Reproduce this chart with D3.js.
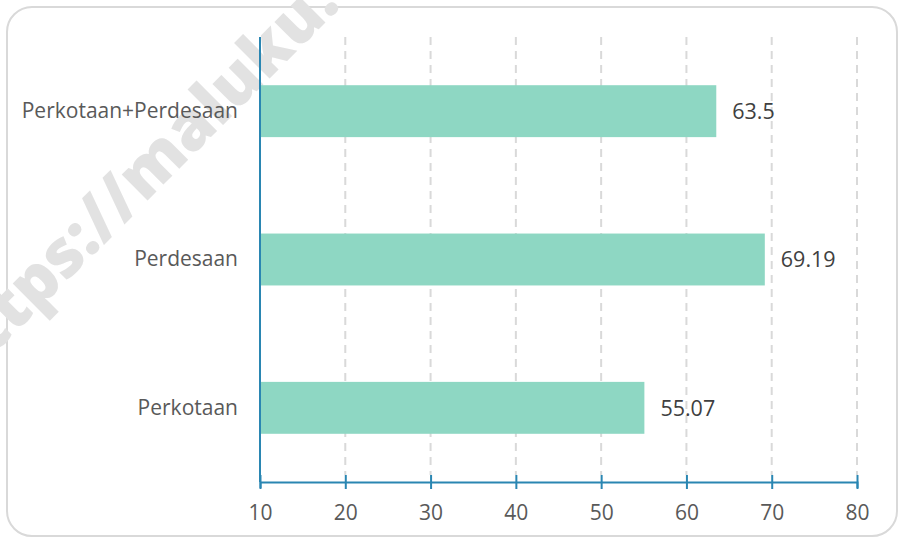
<!DOCTYPE html>
<html>
<head>
<meta charset="utf-8">
<script src="https://cdn.jsdelivr.net/npm/d3@7"></script>
<style>
  body { margin: 0; background: #fff; }
  text { font-family: "Open Sans", sans-serif; }
</style>
</head>
<body>
<div id="chart"></div>
<script>
const categories = ['Perkotaan+Perdesaan', 'Perdesaan', 'Perkotaan'];
const values = [63.5, 69.19, 55.07];
const valueLabels = ['63.5', '69.19', '55.07'];
const xTicks = [10, 20, 30, 40, 50, 60, 70, 80];

const width = 903;
const height = 539;
const margin = { top: 37, right: 46, bottom: 57, left: 260 };

const svg = d3.select('#chart')
  .append('svg')
  .attr('width', width)
  .attr('height', height);

// frame
svg.append('rect')
  .attr('x', 7).attr('y', 7)
  .attr('width', 890).attr('height', 529)
  .attr('rx', 25)
  .attr('fill', '#fff')
  .attr('stroke', '#d9d9d9')
  .attr('stroke-width', 2);

// watermark, behind everything
svg.append('text')
  .attr('transform', 'translate(342,6) rotate(-45)')
  .attr('text-anchor', 'end')
  .attr('font-size', 66)
  .attr('font-weight', 800)
  .attr('fill', '#e2e2e2')
  .text('https://maluku.');

const x = d3.scaleLinear()
  .domain([10, 80])
  .range([margin.left, width - margin.right]);

const y = d3.scaleBand()
  .domain(categories)
  .range([margin.top, height - margin.bottom])
  .paddingInner(0.65)
  .paddingOuter(0.325);

// gridlines
svg.append('g')
  .selectAll('line')
  .data(xTicks.slice(1))
  .enter()
  .append('line')
  .attr('x1', d => x(d)).attr('x2', d => x(d))
  .attr('y1', margin.top).attr('y2', height - margin.bottom - 7)
  .attr('stroke', '#d9d9d9')
  .attr('stroke-width', 2)
  .attr('stroke-dasharray', '8,6');

// bars
svg.append('g')
  .selectAll('rect')
  .data(categories)
  .enter()
  .append('rect')
  .attr('x', x(10))
  .attr('y', d => y(d))
  .attr('width', (d, i) => x(values[i]) - x(10))
  .attr('height', y.bandwidth())
  .attr('fill', '#8ed7c3');

// value labels
svg.append('g')
  .selectAll('text')
  .data(categories)
  .enter()
  .append('text')
  .attr('x', (d, i) => x(values[i]) + 16)
  .attr('y', d => y(d) + y.bandwidth() / 2)
  .attr('dy', '0.36em')
  .attr('font-size', 21.5)
  .attr('fill', '#404040')
  .text((d, i) => valueLabels[i]);

// y axis
const yAxis = svg.append('g')
  .attr('transform', `translate(${margin.left},0)`)
  .call(d3.axisLeft(y).tickSize(0).tickPadding(22));
yAxis.select('.domain')
  .attr('d', `M0,${margin.top}V${height - margin.bottom}`)
  .attr('stroke', '#2a86b2')
  .attr('stroke-width', 2);
yAxis.selectAll('text')
  .attr('font-size', 21)
  .attr('fill', '#595959')
  .style('font-family', '"Open Sans", sans-serif');

// x axis
const xAxis = svg.append('g')
  .attr('transform', `translate(0,${height - margin.bottom})`)
  .call(d3.axisBottom(x).tickValues(xTicks).tickSizeOuter(0).tickSize(6).tickPadding(17));
xAxis.select('.domain')
  .attr('stroke', '#2a86b2')
  .attr('stroke-width', 2);
xAxis.selectAll('.tick line')
  .attr('y1', -7).attr('y2', 7)
  .attr('stroke', '#2a86b2')
  .attr('stroke-width', 2);
xAxis.selectAll('text')
  .attr('font-size', 21)
  .attr('fill', '#595959')
  .style('font-family', '"Open Sans", sans-serif');
</script>
</body>
</html>
